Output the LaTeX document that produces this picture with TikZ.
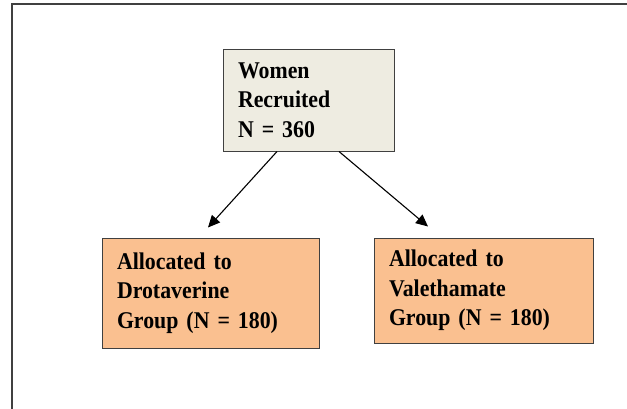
\documentclass[tikz,border=0pt]{standalone}
\usepackage{fontspec}
\setmainfont{Liberation Serif}
\newfontfamily\boxfont[FakeStretch=0.91]{Liberation Serif}
\usetikzlibrary{arrows.meta}
\definecolor{paper}{HTML}{EEECE1}
\definecolor{peach}{HTML}{FAC090}
\tikzset{
  box/.style={draw=black!75, line width=1pt, inner xsep=15pt, inner ysep=0pt,
    align=left, font=\boxfont\fontsize{24}{29.5}\selectfont\bfseries},
  link/.style={line width=1.1pt, -{Triangle[length=12pt,width=11pt]}}
}
\begin{document}
\begin{tikzpicture}[x=1pt,y=-1pt]
\useasboundingbox (0,0) rectangle (627,408);
\draw[black!75, line width=1.3pt] (12,410) -- (12,4) -- (629,4);

\node[box, fill=paper, text width=141pt, minimum height=102pt] (recruit) at (308.5,100) {Women\\Recruited\\N = 360};
\node[box, fill=peach, text width=187pt, minimum height=110pt] (drota) at (210.5,293) {Allocated to\\Drotaverine\\Group (N = 180)};
\node[box, fill=peach, text width=189pt, minimum height=105pt] (vale) at (483.5,290.5) {Allocated to\\Valethamate\\Group (N = 180)};

\draw[link] ([xshift=-31.5pt]recruit.south) -- ([xshift=-2.5pt,yshift=10pt]drota.north);
\draw[link] ([xshift=30.5pt]recruit.south) -- ([xshift=-55.5pt,yshift=11pt]vale.north);
\end{tikzpicture}
\end{document}
